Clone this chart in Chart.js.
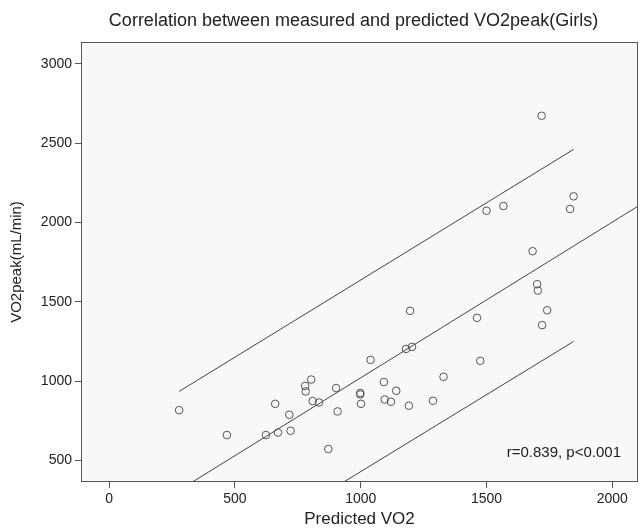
<!DOCTYPE html>
<html>
<head>
<meta charset="utf-8">
<script src="https://cdn.jsdelivr.net/npm/chart.js@4"></script>
<style>
  body { margin: 0; background: #fff; }
  canvas { display: block; }
</style>
</head>
<body>
<canvas id="chart" width="643" height="530"></canvas>
<script>
// points (predicted VO2 vs measured VO2peak, mL/min)
const predictedVO2 = [278, 468, 623, 660, 671, 716, 721, 779, 781, 803, 809, 834, 871, 902, 908, 998, 998, 1001, 1039, 1092, 1095, 1120, 1141, 1180, 1191, 1196, 1204, 1287, 1329, 1462, 1475, 1500, 1567, 1683, 1701, 1704, 1719, 1721, 1741, 1832, 1846];
const measuredVO2 = [817, 660, 660, 857, 676, 788, 687, 970, 935, 1010, 874, 865, 572, 956, 809, 925, 916, 857, 1134, 994, 884, 870, 939, 1203, 845, 1443, 1216, 876, 1027, 1399, 1128, 2074, 2104, 1819, 1611, 1571, 2673, 1353, 1447, 2085, 2165];

// fit line and the two interval lines (end points)
const fitX = [300, 2150];
const fitY = [334, 2150];
const upperX = [278, 1846];
const upperY = [935, 2461];
const lowerX = [860, 1846];
const lowerY = [294, 1250];

const xTicks = [0, 500, 1000, 1500, 2000];
const yTicks = [500, 1000, 1500, 2000, 2500, 3000];

const titleText = 'Correlation between measured and predicted VO2peak(Girls)';
const xTitle = 'Predicted VO2';
const yTitle = 'VO2peak(mL/min)';
const statText = 'r=0.839, p<0.001';

const FONT = '"Liberation Sans", Arial, Helvetica, sans-serif';
const INK = '#222';

const toPoints = (xs, ys) => xs.map((x, i) => ({ x: x, y: ys[i] }));

const lineSet = (xs, ys) => ({
  type: 'line',
  data: toPoints(xs, ys),
  showLine: true,
  borderColor: '#444',
  borderWidth: 1,
  pointRadius: 0,
  fill: false
});

const framePlugin = {
  id: 'frame',
  beforeDatasetsDraw: (chart) => {
    const ctx = chart.ctx;
    const a = chart.chartArea;
    ctx.save();
    ctx.fillStyle = '#f8f8f8';
    ctx.fillRect(a.left, a.top, a.right - a.left, a.bottom - a.top);
    ctx.restore();
  },
  afterDraw: (chart) => {
    const ctx = chart.ctx;
    const a = chart.chartArea;
    ctx.save();
    ctx.strokeStyle = '#555';
    ctx.lineWidth = 1;
    ctx.strokeRect(a.left + 0.5, a.top + 0.5, a.right - a.left - 1, a.bottom - a.top - 1);

    ctx.fillStyle = INK;
    ctx.textBaseline = 'middle';
    // title sits over the middle of the plot frame, not the canvas
    ctx.font = '18px ' + FONT;
    ctx.textAlign = 'center';
    ctx.fillText(titleText, (a.left + a.right) / 2 - 6, 21);
    // r / p note in the lower right corner
    ctx.font = '15px ' + FONT;
    ctx.textAlign = 'right';
    ctx.fillText(statText, a.right - 17, a.bottom - 29);
    ctx.restore();
  }
};

const axisGrid = { display: true, drawOnChartArea: false, drawTicks: true, tickLength: 6, color: '#555', lineWidth: 1 };
const plainTick = (v) => String(v);

new Chart(document.getElementById('chart'), {
  type: 'scatter',
  data: {
    datasets: [
      {
        data: toPoints(predictedVO2, measuredVO2),
        pointRadius: 3.8,
        pointBorderWidth: 1,
        pointBorderColor: '#555',
        pointBackgroundColor: 'rgba(0,0,0,0)'
      },
      lineSet(fitX, fitY),
      lineSet(upperX, upperY),
      lineSet(lowerX, lowerY)
    ]
  },
  options: {
    responsive: false,
    animation: false,
    layout: { padding: { left: 0, right: 1, top: 42, bottom: 0 } },
    plugins: {
      legend: { display: false },
      tooltip: { enabled: false },
      title: { display: false }
    },
    scales: {
      x: {
        type: 'linear',
        min: -112,
        max: 2102,
        afterBuildTicks: (scale) => { scale.ticks = xTicks.map(v => ({ value: v })); },
        afterFit: (scale) => { scale.height = 48; },
        grid: axisGrid,
        border: { display: false },
        ticks: { color: INK, font: { family: FONT, size: 14 }, padding: 3, maxRotation: 0, callback: plainTick },
        title: { display: true, text: xTitle, color: INK, font: { family: FONT, size: 17 }, padding: { top: 0, bottom: 0 } }
      },
      y: {
        type: 'linear',
        min: 364,
        max: 3138,
        afterBuildTicks: (scale) => { scale.ticks = yTicks.map(v => ({ value: v })); },
        afterFit: (scale) => { scale.width = 81; },
        grid: axisGrid,
        border: { display: false },
        ticks: { color: INK, font: { family: FONT, size: 14 }, padding: 3, callback: plainTick },
        title: { display: true, text: yTitle, color: INK, font: { family: FONT, size: 15 }, padding: { top: 8, bottom: 0 } }
      }
    }
  },
  plugins: [framePlugin]
});
</script>
</body>
</html>
